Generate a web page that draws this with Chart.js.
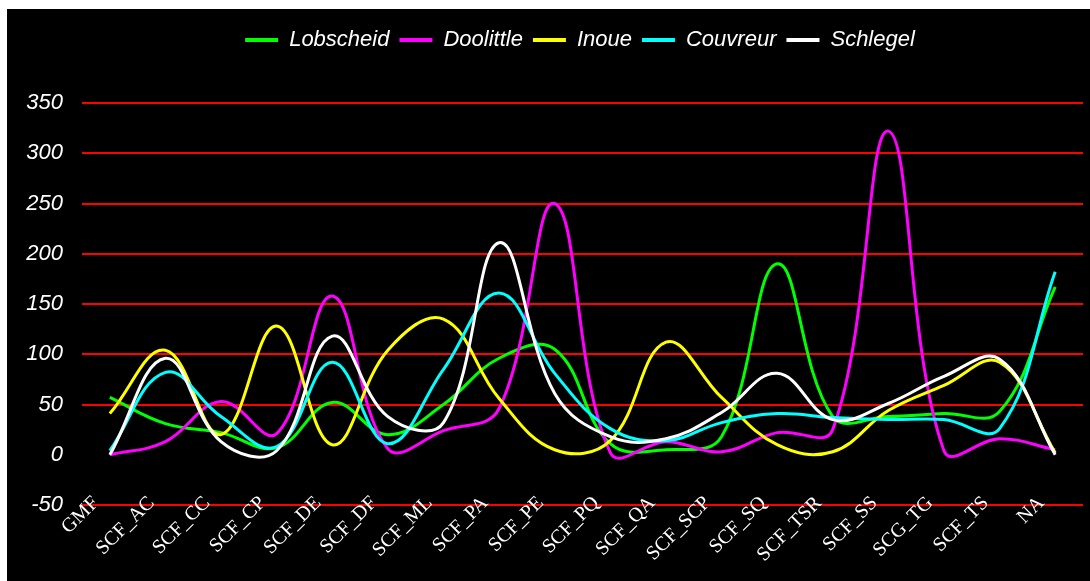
<!DOCTYPE html>
<html>
<head>
<meta charset="utf-8">
<script src="https://cdn.jsdelivr.net/npm/chart.js@4/dist/chart.umd.min.js"></script>
<style>
    html, body { margin: 0; padding: 0; background: #fff; }
    #wrap { position: absolute; left: 7px; top: 9px; width: 1083px; height: 572px; background: #000; }
</style>
</head>
<body>
<div id="wrap"><canvas id="lineChart"></canvas></div>
<script>
const categories = ['GMF', 'SCF_AC', 'SCF_CC', 'SCF_CP', 'SCF_DE', 'SCF_DF', 'SCF_ML', 'SCF_PA', 'SCF_PE',
    'SCF_PQ', 'SCF_QA', 'SCF_SCP', 'SCF_SQ', 'SCF_TSR', 'SCF_SS', 'SCG_TG', 'SCF_TS', 'NA'];

const lobscheid = [57, 31, 22, 7, 52, 20, 50, 96, 105, 11, 5, 18, 190, 38, 38, 41, 43, 167];
const doolittle = [0, 13, 53, 21, 158, 6, 24, 46, 250, 2, 13, 3, 22, 25, 322, 4, 16, 5];
const inoue = [41, 104, 20, 128, 10, 104, 135, 56, 5, 14, 112, 57, 10, 3, 44, 69, 92, 2];
const couvreur = [4, 82, 38, 8, 92, 11, 85, 161, 81, 26, 14, 32, 41, 37, 35, 35, 26, 182];
const schlegel = [0, 96, 13, 4, 118, 38, 32, 211, 61, 18, 16, 42, 81, 35, 51, 78, 95, 0];

const seriesNames = ['Lobscheid', 'Doolittle', 'Inoue', 'Couvreur', 'Schlegel'];
const seriesData = [lobscheid, doolittle, inoue, couvreur, schlegel];
const seriesColors = ['#00ff00', '#ff00ff', '#ffff00', '#00ffff', '#ffffff'];

const yMin = -50;
const yMax = 350;
const yStep = 50;

// rotated serif category labels, drawn at the x scale's own positions
const categoryLabels = {
    id: 'categoryLabels',
    afterDraw(chart) {
        const ctx = chart.ctx;
        const xScale = chart.scales.x;
        const bottom = chart.chartArea.bottom;
        ctx.save();
        ctx.fillStyle = '#ffffff';
        ctx.font = '20px "Liberation Serif", "Times New Roman", serif';
        ctx.textAlign = 'right';
        ctx.textBaseline = 'middle';
        categories.forEach((label, i) => {
            const x = xScale.getPixelForValue(i);
            ctx.save();
            ctx.translate(x - 14, bottom - 5);
            ctx.rotate(-Math.PI / 4);
            ctx.fillText(label, 0, 0);
            ctx.restore();
        });
        ctx.restore();
    }
};

// leave room between the legend and the plot, and centre it over the plot
const legendSpace = {
    id: 'legendSpace',
    beforeInit(chart) {
        const origFit = chart.legend.fit;
        chart.legend.fit = function() {
            origFit.call(this);
            this.height = 84;
        };
    },
    afterLayout(chart) {
        chart.legend.left += 35;
        chart.legend.right += 35;
    }
};

new Chart(document.getElementById('lineChart').getContext('2d'), {
    type: 'line',
    data: {
        labels: categories,
        datasets: seriesNames.map((name, i) => ({
            label: name,
            data: seriesData[i],
            borderColor: seriesColors[i],
            backgroundColor: seriesColors[i],
            borderWidth: 3,
            pointRadius: 0,
            tension: 0.4,
            fill: false,
            order: seriesNames.length - i
        }))
    },
    options: {
        responsive: true,
        maintainAspectRatio: false,
        animation: false,
        layout: {
            padding: { top: 10, right: 7, bottom: 76, left: 0 }
        },
        plugins: {
            legend: {
                position: 'top',
                labels: {
                    color: '#ffffff',
                    boxWidth: 33,
                    boxHeight: 4,
                    padding: 10,
                    font: { family: '"Liberation Sans", Arial, sans-serif', size: 22, style: 'italic' },
                    generateLabels: chart => chart.data.datasets.map((ds, i) => ({
                        text: ds.label,
                        fillStyle: ds.borderColor,
                        strokeStyle: ds.borderColor,
                        lineWidth: 0,
                        fontColor: '#ffffff',
                        hidden: false,
                        datasetIndex: i
                    }))
                }
            },
            tooltip: { enabled: false }
        },
        scales: {
            x: {
                type: 'category',
                offset: true,
                display: false
            },
            y: {
                min: yMin,
                max: yMax,
                afterFit: scale => { scale.width = 75; },
                border: { display: false },
                grid: {
                    drawTicks: false,
                    lineWidth: 2,
                    color: ctx => ctx.tick && ctx.tick.value === 0 ? 'rgba(0,0,0,0)' : '#ff0000'
                },
                ticks: {
                    stepSize: yStep,
                    padding: 19,
                    color: '#ffffff',
                    font: { family: '"Liberation Sans", Arial, sans-serif', size: 22, style: 'italic' }
                }
            }
        }
    },
    plugins: [categoryLabels, legendSpace]
});
</script>
</body>
</html>
